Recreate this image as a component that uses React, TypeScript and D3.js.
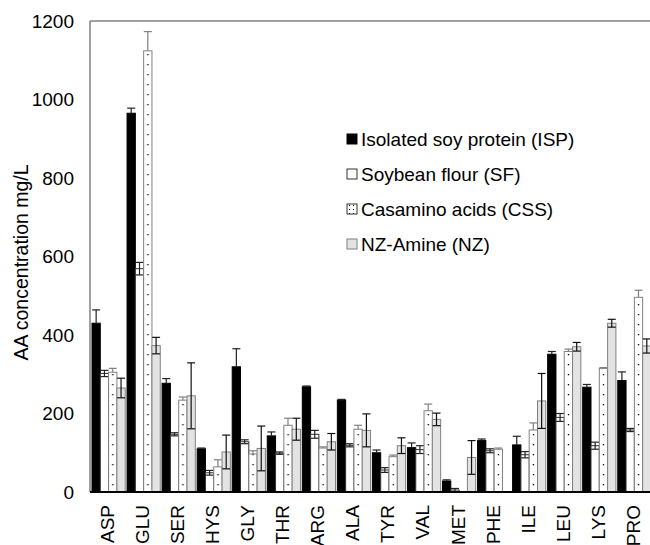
import * as d3 from 'd3';
import React, { useEffect, useRef } from 'react';

const categories = ['ASP', 'GLU', 'SER', 'HYS', 'GLY', 'THR', 'ARG', 'ALA', 'TYR', 'VAL', 'MET', 'PHE', 'ILE', 'LEU', 'LYS', 'PRO'];
const isp = [430, 965, 277, 110, 319, 143, 268, 234, 100, 113, 28, 131, 120, 351, 267, 284];
const ispErr = [34, 13, 12, 2, 46, 10, 2, 2, 7, 12, 3, 4, 22, 7, 7, 22];
const sf = [302, 569, 147, 49, 128, 99, 147, 119, 56, 108, 5, 105, 95, 190, 118, 158];
const sfErr = [8, 16, 4, 6, 5, 3, 10, 4, 6, 10, 4, 5, 8, 10, 9, 4];
const css = [305, 1124, 234, 64, 97, 170, 112, 160, 90, 207, 0, 109, 158, 358, 315, 496];
const cssErr = [10, 49, 8, 18, 8, 18, 3, 10, 4, 17, 0, 3, 18, 6, 2, 18];
const nz = [265, 373, 245, 102, 111, 160, 128, 157, 118, 185, 88, 0, 232, 370, 430, 372];
const nzErr = [25, 21, 84, 43, 57, 28, 21, 42, 20, 16, 43, 0, 70, 11, 10, 18];
const yTicks = [0, 200, 400, 600, 800, 1000, 1200];
const seriesNames = ['Isolated soy protein (ISP)', 'Soybean flour (SF)', 'Casamino acids (CSS)', 'NZ-Amine (NZ)'];

const FONT = "Arial, 'Liberation Sans', sans-serif";

const App = () => {
  const ref = useRef<SVGSVGElement | null>(null);

  useEffect(() => {
    if (!ref.current) return;
    const svg = d3.select(ref.current);
    svg.selectAll('*').remove();

    const left = 90;
    const top = 21;
    const bottom = 492;
    const band = 35.05;
    const right = left + band * categories.length;
    const barW = 8.3;
    const offset = 2;

    const x = d3.scaleBand().domain(categories).range([left, right]).padding(0);
    const y = d3.scaleLinear().domain([0, 1200]).range([bottom, top]);

    const defs = svg.append('defs');
    const pat = defs
      .append('pattern')
      .attr('id', 'cssDots')
      .attr('patternUnits', 'userSpaceOnUse')
      .attr('x', left)
      .attr('y', 0)
      .attr('width', band)
      .attr('height', 10);
    pat.append('rect').attr('width', band).attr('height', 10).attr('fill', '#fff');
    pat.append('rect').attr('x', offset + barW * 2 + 3.6).attr('y', 4).attr('width', 1.3).attr('height', 1.3).attr('fill', '#000');

    const legPat = defs.append('pattern').attr('id', 'legDots').attr('patternUnits', 'userSpaceOnUse').attr('width', 4).attr('height', 4);
    legPat.append('rect').attr('width', 4).attr('height', 4).attr('fill', '#fff');
    legPat.append('rect').attr('x', 1).attr('y', 1).attr('width', 1).attr('height', 1).attr('fill', '#000');

    // frame: top line + left axis
    svg.append('line').attr('x1', left).attr('x2', 650).attr('y1', top).attr('y2', top).attr('stroke', '#808080').attr('stroke-width', 1.5);
    svg.append('line').attr('x1', left).attr('x2', left).attr('y1', top).attr('y2', bottom).attr('stroke', '#808080').attr('stroke-width', 1.5);

    const series = [
      { vals: isp, err: ispErr, fill: '#000', stroke: '#000', errColor: '#222', mode: 'up' },
      { vals: sf, err: sfErr, fill: '#fff', stroke: '#333', errColor: '#222', mode: 'both' },
      { vals: css, err: cssErr, fill: 'url(#cssDots)', stroke: '#808080', errColor: '#808080', mode: 'up' },
      { vals: nz, err: nzErr, fill: '#e3e3e3', stroke: '#808080', errColor: '#111', mode: 'both' },
    ];

    series.forEach((s, si) => {
      const g = svg.append('g');
      categories.forEach((c, i) => {
        const v = s.vals[i];
        if (v <= 0) return;
        const bx = (x(c) as number) + offset + si * barW;
        g.append('rect')
          .attr('x', bx)
          .attr('y', y(v))
          .attr('width', barW)
          .attr('height', bottom - y(v))
          .attr('fill', s.fill)
          .attr('stroke', s.stroke)
          .attr('stroke-width', 1);
      });
      categories.forEach((c, i) => {
        const v = s.vals[i];
        const e = s.err[i];
        if (v <= 0 || e <= 0) return;
        const cx = (x(c) as number) + offset + si * barW + barW / 2;
        const hi = y(v + e);
        const lo = s.mode === 'both' ? y(v - e) : y(v);
        g.append('line').attr('x1', cx).attr('x2', cx).attr('y1', hi).attr('y2', lo).attr('stroke', s.errColor).attr('stroke-width', 1.2);
        g.append('line').attr('x1', cx - 4).attr('x2', cx + 4).attr('y1', hi).attr('y2', hi).attr('stroke', s.errColor).attr('stroke-width', 1.2);
        if (s.mode === 'both') {
          g.append('line').attr('x1', cx - 4).attr('x2', cx + 4).attr('y1', lo).attr('y2', lo).attr('stroke', s.errColor).attr('stroke-width', 1.2);
        }
      });
    });

    // bottom axis
    svg.append('line').attr('x1', left).attr('x2', 650).attr('y1', bottom).attr('y2', bottom).attr('stroke', '#000').attr('stroke-width', 2);

    // y tick labels
    svg
      .append('g')
      .selectAll('text')
      .data(yTicks)
      .enter()
      .append('text')
      .attr('x', 74)
      .attr('y', (d) => y(d))
      .attr('dy', '0.35em')
      .attr('text-anchor', 'end')
      .style('font-family', FONT)
      .style('font-size', '19px')
      .attr('fill', '#000')
      .text((d) => d);

    // x labels
    svg
      .append('g')
      .selectAll('text')
      .data(categories)
      .enter()
      .append('text')
      .attr('transform', (d) => `translate(${(x(d) as number) + band / 2 + 6.5},505) rotate(-90)`)
      .attr('text-anchor', 'end')
      .style('font-family', FONT)
      .style('font-size', '19px')
      .attr('fill', '#000')
      .text((d) => d);

    // y title
    svg
      .append('text')
      .attr('transform', `translate(28,${(top + bottom) / 2 + 6}) rotate(-90)`)
      .attr('text-anchor', 'middle')
      .style('font-family', FONT)
      .style('font-size', '19.5px')
      .attr('fill', '#000')
      .text('AA concentration mg/L');

    // legend
    const legFills = ['#000', '#fff', 'url(#legDots)', '#e3e3e3'];
    const legStrokes = ['#000', '#333', '#333', '#808080'];
    const legY = [139, 174, 209, 244];
    const leg = svg.append('g');
    seriesNames.forEach((name, i) => {
      leg.append('rect').attr('x', 347).attr('y', legY[i] - 5).attr('width', 10).attr('height', 10).attr('fill', legFills[i]).attr('stroke', legStrokes[i]).attr('stroke-width', 1);
      leg
        .append('text')
        .attr('x', 361)
        .attr('y', legY[i])
        .attr('dy', '0.35em')
        .style('font-family', FONT)
        .style('font-size', '19px')
        .attr('fill', '#000')
        .text(name);
    });
  }, []);

  return <svg ref={ref} width={650} height={545} style={{ position: 'absolute', left: 0, top: 0, background: '#fff' }} />;
};

export default App;
